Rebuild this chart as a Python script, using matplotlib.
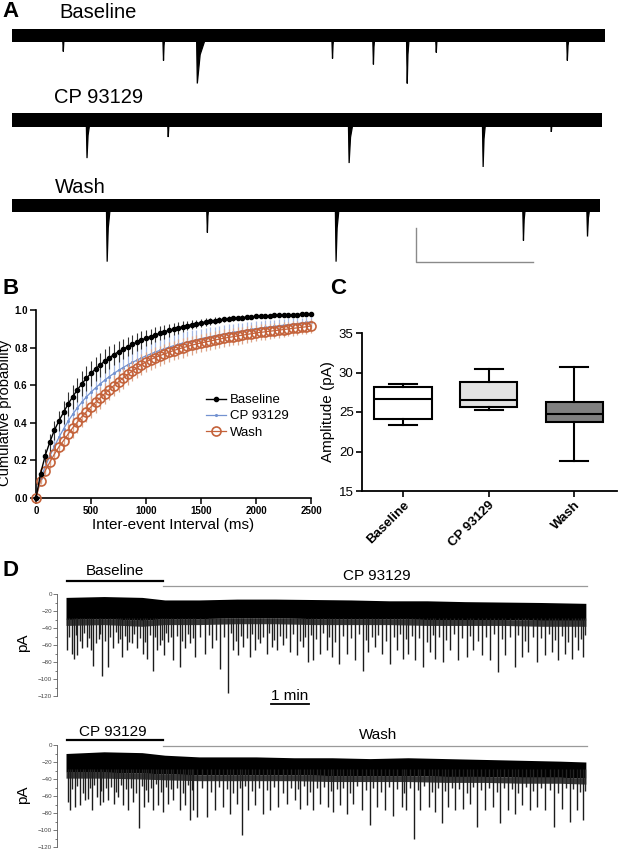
import numpy as np
import matplotlib
matplotlib.use('Agg')
import matplotlib.pyplot as plt
from matplotlib.lines import Line2D
from matplotlib.ticker import MultipleLocator, FormatStrFormatter

plt.rcParams['font.family'] = ['Liberation Sans', 'DejaVu Sans']

W, H = 618, 852
fig = plt.figure(figsize=(W / 100, H / 100), dpi=100)


def fr(x0, y0, x1, y1):
    return [x0 / W, 1 - y1 / H, (x1 - x0) / W, (y1 - y0) / H]


# ---------------- Panel A data (event time ms, amplitude pA, decay ms) ----------------
a_labels = ['Baseline', 'CP 93129', 'Wash']
a_end = [1000, 995, 992]
a_base_t = [86, 255, 312, 540, 609, 666, 715, 936]
a_base_amp = [9.4, 14.7, 28.2, 13.5, 17.0, 28.2, 10.0, 14.7]
a_base_dec = [3, 3, 16, 3, 3, 4, 3, 4]
a_cp_t = [126, 263, 568, 794, 909]
a_cp_amp = [22.4, 10.0, 25.3, 27.6, 7.0]
a_cp_dec = [6, 3, 8, 5, 3]
a_wash_t = [160, 329, 546, 862, 970]
a_wash_amp = [33.0, 15.9, 33.0, 20.6, 18.2]
a_wash_dec = [6, 3, 6, 4, 5]

# ---------------- Panel B data ----------------
b_interval = np.linspace(0, 2500, 61)
b_baseline = [0.0, 0.13, 0.225, 0.296, 0.36, 0.41, 0.455, 0.50, 0.538, 0.575, 0.607,
              0.637, 0.663, 0.687, 0.708, 0.728, 0.746, 0.763, 0.778, 0.792, 0.805,
              0.817, 0.829, 0.840, 0.850, 0.859, 0.868, 0.876, 0.884, 0.891, 0.898,
              0.905, 0.911, 0.917, 0.922, 0.927, 0.932, 0.936, 0.940, 0.944, 0.947,
              0.950, 0.953, 0.956, 0.958, 0.960, 0.962, 0.964, 0.966, 0.968, 0.969,
              0.970, 0.971, 0.972, 0.973, 0.974, 0.975, 0.976, 0.977, 0.978, 0.980]
b_baseline_err = [0.0, 0.02, 0.035, 0.045, 0.05, 0.055, 0.06, 0.062, 0.064, 0.065, 0.066,
                  0.066, 0.066, 0.065, 0.064, 0.062, 0.06, 0.058, 0.056, 0.054, 0.052,
                  0.05, 0.048, 0.046, 0.044, 0.042, 0.04, 0.038, 0.036, 0.034, 0.032,
                  0.03, 0.028, 0.026, 0.024, 0.022, 0.02, 0.019, 0.018, 0.017, 0.016,
                  0.015, 0.014, 0.013, 0.012, 0.011, 0.01, 0.01, 0.01, 0.01, 0.01,
                  0.009, 0.009, 0.009, 0.009, 0.009, 0.008, 0.008, 0.008, 0.008, 0.008]
b_cp = [0.0, 0.105, 0.165, 0.222, 0.274, 0.322, 0.367, 0.408, 0.445, 0.479, 0.51,
        0.538, 0.563, 0.586, 0.607, 0.627, 0.646, 0.663, 0.679, 0.694, 0.708,
        0.721, 0.733, 0.745, 0.756, 0.766, 0.776, 0.785, 0.794, 0.802, 0.81,
        0.817, 0.824, 0.83, 0.836, 0.842, 0.848, 0.853, 0.858, 0.863, 0.868,
        0.873, 0.877, 0.881, 0.885, 0.889, 0.893, 0.897, 0.901, 0.904, 0.907,
        0.910, 0.913, 0.916, 0.919, 0.922, 0.925, 0.928, 0.931, 0.934, 0.937]
b_cp_err = [0.0, 0.02, 0.035, 0.045, 0.055, 0.06, 0.065, 0.068, 0.07, 0.072, 0.072,
            0.072, 0.072, 0.072, 0.071, 0.071, 0.07, 0.07, 0.069, 0.069, 0.068,
            0.068, 0.067, 0.067, 0.066, 0.065, 0.064, 0.063, 0.062, 0.061, 0.06,
            0.059, 0.058, 0.056, 0.055, 0.053, 0.052, 0.051, 0.05, 0.049, 0.048,
            0.047, 0.046, 0.045, 0.044, 0.043, 0.042, 0.041, 0.04, 0.039, 0.038,
            0.037, 0.036, 0.035, 0.034, 0.033, 0.032, 0.03, 0.029, 0.027, 0.025]
b_wash = [0.0, 0.092, 0.145, 0.19, 0.233, 0.272, 0.305, 0.34, 0.373, 0.403, 0.432,
          0.459, 0.485, 0.509, 0.532, 0.555, 0.577, 0.598, 0.618, 0.638, 0.657,
          0.675, 0.692, 0.709, 0.724, 0.736, 0.747, 0.757, 0.766, 0.775, 0.784,
          0.792, 0.799, 0.806, 0.813, 0.819, 0.825, 0.830, 0.835, 0.840, 0.845,
          0.850, 0.854, 0.858, 0.862, 0.866, 0.870, 0.874, 0.878, 0.881, 0.884,
          0.887, 0.890, 0.893, 0.896, 0.899, 0.902, 0.905, 0.908, 0.911, 0.915]
b_wash_err = [0.0, 0.015, 0.025, 0.035, 0.04, 0.045, 0.05, 0.052, 0.054, 0.055, 0.056,
              0.057, 0.057, 0.057, 0.057, 0.057, 0.056, 0.056, 0.056, 0.056, 0.055,
              0.055, 0.055, 0.055, 0.054, 0.054, 0.054, 0.053, 0.053, 0.053, 0.052,
              0.052, 0.052, 0.051, 0.051, 0.05, 0.05, 0.049, 0.049, 0.048, 0.048,
              0.047, 0.047, 0.046, 0.046, 0.045, 0.044, 0.044, 0.043, 0.042, 0.042,
              0.041, 0.04, 0.04, 0.039, 0.038, 0.038, 0.037, 0.036, 0.036, 0.035]

# ---------------- Panel C data ----------------
c_groups = ['Baseline', 'CP 93129', 'Wash']
c_min = [23.4, 25.3, 18.8]
c_q1 = [24.1, 25.6, 23.75]
c_median = [26.6, 26.5, 24.8]
c_q3 = [28.15, 28.8, 26.25]
c_max = [28.5, 30.4, 30.7]
c_colors = ['white', '#e3e3e3', '#7f7f7f']

# ---------------- Panel D data (time min, current pA) ----------------
d_ticks = [-120, -100, -80, -60, -40, -20, 0]
d1_bar_labels = ['Baseline', 'CP 93129']
d2_bar_labels = ['CP 93129', 'Wash']
d_switch = 2.55
d_end = 13.68
d1_env_t = [0, 1, 2, 2.6, 3.5, 4.5, 5.5, 6.5, 7.5, 8.5, 9.5, 10.5, 11.5, 12.5, 13.68]
d1_env_top = [-4, -3, -4, -7, -7, -6, -6, -6.5, -7, -8, -8, -9, -9.5, -10, -11]
d1_env_bot = [-30, -29, -31, -29, -29, -28, -28, -29, -29, -29, -30, -30, -30, -31, -31]
d1_spike_t = [0.02, 0.15, 0.21, 0.3, 0.42, 0.54, 0.65, 0.72, 0.86, 0.95, 1.1, 1.24, 1.38,
              1.47, 1.6, 1.73, 1.86, 2.02, 2.12, 2.28, 2.39, 2.47, 2.58, 2.68, 2.82, 3.0,
              3.13, 3.26, 3.4, 3.66, 3.83, 4.05, 4.27, 4.4, 4.53, 4.67, 4.84, 4.97, 5.1,
              5.28, 5.41, 5.54, 5.72, 5.89, 6.07, 6.24, 6.37, 6.5, 6.68, 6.86, 6.99, 7.19,
              7.39, 7.61, 7.82, 7.96, 8.13, 8.31, 8.53, 8.7, 8.88, 9.01, 9.18, 9.4, 9.58,
              9.71, 9.93, 10.1, 10.32, 10.54, 10.72, 10.94, 11.16, 11.38, 11.55, 11.82,
              11.99, 12.17, 12.39, 12.61, 12.78, 12.96, 13.13, 13.31, 13.48, 13.61]
d1_spike_pa = [-66, -70, -76, -72, -64, -62, -66, -85, -53, -97, -86, -64, -58,
               -74, -66, -58, -64, -70, -76, -91, -66, -60, -72, -56, -78, -86,
               -64, -58, -74, -70, -64, -88, -117, -66, -72, -62, -74, -66, -58,
               -70, -62, -66, -60, -68, -72, -62, -80, -78, -70, -66, -74, -82,
               -70, -78, -90, -68, -62, -70, -82, -66, -76, -70, -78, -86, -68,
               -76, -80, -66, -78, -74, -66, -72, -78, -92, -72, -86,
               -74, -68, -80, -72, -68, -78, -70, -76, -66, -74]
d1_mid_t = [0.08, 0.26, 0.36, 0.48, 0.6, 0.79, 0.9, 1.03, 1.17, 1.31, 1.43, 1.54, 1.67,
            1.8, 1.94, 2.07, 2.2, 2.34, 2.52, 2.63, 2.75, 2.91, 3.06, 3.2, 3.33, 3.53,
            3.75, 3.94, 4.16, 4.34, 4.47, 4.6, 4.76, 4.9, 5.04, 5.19, 5.35, 5.48, 5.63,
            5.8, 5.98, 6.15, 6.3, 6.44, 6.59, 6.77, 6.93, 7.09, 7.29, 7.5, 7.72, 7.89,
            8.05, 8.22, 8.42, 8.62, 8.79, 8.95, 9.1, 9.29, 9.49, 9.65, 9.82, 10.01,
            10.21, 10.43, 10.63, 10.83, 11.05, 11.27, 11.47, 11.68, 11.9, 12.08, 12.28,
            12.5, 12.7, 12.87, 13.05, 13.22, 13.4, 13.55, 13.66]
d1_mid_pa = [-50, -48, -55, -46, -52, -58, -47, -55, -50, -45, -53, -49, -56,
             -47, -52, -57, -48, -50, -54, -46, -51, -49, -55, -47, -52, -50,
             -48, -54, -51, -46, -55, -49, -52, -47, -53, -50, -46, -54, -49,
             -52, -47, -55, -50, -48, -53, -46, -51, -56, -49, -52, -47, -54,
             -50, -48, -55, -51, -47, -53, -49, -52, -56, -48, -51, -54,
             -47, -52, -49, -55, -50, -47, -53, -51, -48, -55, -50,
             -52, -47, -54, -49, -56, -50, -53, -48]
d2_env_t = [0, 1, 2, 2.6, 3.5, 5, 6, 7, 8, 9, 10, 11, 12, 13, 13.68]
d2_env_top = [-10, -8, -9, -12, -14, -14, -15, -15, -16, -15, -16, -17, -18, -19, -20]
d2_env_bot = [-32, -32, -33, -34, -35, -35, -35, -36, -36, -36, -37, -37, -38, -38, -39]
d2_spike_t = [0.06, 0.1, 0.24, 0.37, 0.5, 0.59, 0.68, 0.81, 0.89, 0.98, 1.11, 1.25, 1.38,
              1.49, 1.64, 1.77, 1.93, 2.05, 2.17, 2.3, 2.43, 2.56, 2.69, 2.82, 3.0, 3.13,
              3.26, 3.35, 3.44, 3.7, 3.92, 4.14, 4.32, 4.49, 4.64, 4.8, 4.97, 5.19, 5.37,
              5.59, 5.81, 6.03, 6.16, 6.33, 6.51, 6.68, 6.9, 7.03, 7.21, 7.39, 7.56, 7.78,
              8.0, 8.18, 8.39, 8.61, 8.83, 8.96, 9.17, 9.32, 9.54, 9.71, 9.89, 10.06,
              10.24, 10.46, 10.63, 10.81, 11.03, 11.24, 11.42, 11.64, 11.82, 11.99, 12.21,
              12.39, 12.61, 12.85, 13.04, 13.26, 13.44, 13.61]
d2_spike_pa = [-67, -77, -73, -71, -65, -63, -77, -61, -71, -67, -65, -69, -61,
               -71, -77, -67, -98, -73, -67, -77, -71, -79, -69, -65, -77, -71,
               -88, -77, -85, -85, -77, -73, -81, -69, -106, -77, -71, -81, -77,
               -73, -69, -65, -75, -71, -77, -69, -73, -79, -71, -81, -69, -77,
               -94, -73, -77, -83, -73, -77, -110, -77, -73, -79, -92, -73,
               -77, -75, -69, -96, -77, -73, -92, -77, -81, -71, -77,
               -73, -77, -96, -75, -90, -77, -88]
d2_mid_t = [0.17, 0.3, 0.44, 0.64, 0.74, 0.93, 1.04, 1.18, 1.31, 1.44, 1.57, 1.7, 1.85,
            1.99, 2.11, 2.24, 2.37, 2.5, 2.62, 2.75, 2.91, 3.07, 3.2, 3.31, 3.57, 3.81,
            4.03, 4.23, 4.4, 4.57, 4.72, 4.89, 5.08, 5.28, 5.48, 5.7, 5.92, 6.1, 6.25,
            6.42, 6.6, 6.79, 6.97, 7.12, 7.3, 7.48, 7.67, 7.89, 8.09, 8.29, 8.5, 8.72,
            8.9, 9.06, 9.25, 9.43, 9.63, 9.8, 9.98, 10.15, 10.35, 10.55, 10.72, 10.92,
            11.13, 11.33, 11.53, 11.73, 11.9, 12.1, 12.3, 12.5, 12.73, 12.95, 13.15,
            13.35, 13.53, 13.66]
d2_mid_pa = [-52, -48, -56, -50, -47, -54, -51, -49, -55, -47, -52, -50, -57,
             -48, -53, -51, -46, -55, -49, -52, -50, -56, -47, -53, -51, -55,
             -49, -52, -57, -50, -48, -54, -51, -53, -49, -56, -50, -52, -48,
             -55, -51, -49, -54, -52, -50, -57, -48, -53, -51, -55, -49, -52,
             -56, -50, -53, -48, -55, -51, -54, -50, -52, -57, -49, -53,
             -51, -55, -50, -52, -56, -49, -54, -51, -53, -57, -50,
             -52, -55, -54]

# =============== Panel A ===============
axA = fig.add_axes(fr(12, 0, 605, 270))
axA.set_xlim(0, 1000)
axA.set_ylim(-158.8, 0)
axA.axis('off')
a_offsets = [-20.9, -70.6, -120.9]
a_events = [(a_base_t, a_base_amp, a_base_dec),
            (a_cp_t, a_cp_amp, a_cp_dec),
            (a_wash_t, a_wash_amp, a_wash_dec)]
for off, end, (ts, amps, decs) in zip(a_offsets, a_end, a_events):
    axA.fill_between([0, end], off - 4.0, off + 4.0, color='k', lw=0)
    for t, amp, dec in zip(ts, amps, decs):
        xs = [t - 0.8, t + 0.5, t + 0.5 + dec * 0.3, t + dec]
        ys = [off, off - amp, off - amp * 0.4, off]
        axA.fill(xs, ys, color='k', lw=0.9)
# scale bar (200 ms, 20 pA)
axA.plot([681, 681, 879], [-134.1, -154.1, -154.1], color='#8a8a8a', lw=1.0)
for (x, y), lab in zip([(59, 12.5), (54, 97.5), (55, 187.5)], a_labels):
    fig.text(x / W, 1 - y / H, lab, fontsize=14.5, va='center', ha='left')

# panel letters
for x, y, s in [(2, 11.5, 'A'), (2, 288, 'B'), (330, 289, 'C'), (2, 570, 'D')]:
    fig.text(x / W, 1 - y / H, s, fontsize=16, fontweight='bold', va='center', ha='left')

# =============== Panel B ===============
axB = fig.add_axes(fr(36, 310, 311, 498))
cp_col, cp_ecol = '#7392d0', '#a6b9e4'
wa_col, wa_ecol = '#c4623a', '#dda488'
e1 = axB.errorbar(b_interval, b_cp, yerr=b_cp_err, color=cp_col, ecolor=cp_ecol,
                  lw=0.9, elinewidth=0.9, marker='.', ms=2.5, zorder=2)
e2 = axB.errorbar(b_interval, b_wash, yerr=b_wash_err, color=wa_col, ecolor=wa_ecol,
                  lw=0.9, elinewidth=0.9, marker='o', ms=6.5, mfc='none', mew=1.2,
                  zorder=3)
e3 = axB.errorbar(b_interval, b_baseline, yerr=b_baseline_err, color='k', ecolor='#333333',
                  lw=1.0, elinewidth=0.8, marker='o', ms=3.0, zorder=4)
for e in (e1, e2, e3):
    for art in e.get_children():
        art.set_clip_on(False)
axB.set_xlim(0, 2500)
axB.set_ylim(0, 1)
axB.set_xticks([0, 500, 1000, 1500, 2000, 2500])
axB.set_yticks([0, 0.2, 0.4, 0.6, 0.8, 1.0])
axB.yaxis.set_major_formatter(FormatStrFormatter('%.1f'))
for sp in ('top', 'right'):
    axB.spines[sp].set_visible(False)
for sp in ('left', 'bottom'):
    axB.spines[sp].set_linewidth(1.2)
axB.tick_params(direction='out', length=4, width=1.1, pad=2, labelsize=7)
for lab in axB.get_xticklabels() + axB.get_yticklabels():
    lab.set_fontweight('bold')
axB.set_xlabel('Inter-event Interval (ms)', fontsize=11, labelpad=1)
axB.set_ylabel('Cumulative probability', fontsize=10.6)
axB.yaxis.set_label_coords(-0.086, 0.45)
handles = [Line2D([], [], color='k', marker='o', ms=3.0, lw=1.0),
           Line2D([], [], color=cp_col, marker='.', ms=2.5, lw=0.9),
           Line2D([], [], color=wa_col, marker='o', ms=6.5, mfc='none', mew=1.2, lw=0.9)]
fig.legend(handles, ['Baseline', 'CP 93129', 'Wash'], loc='upper left',
           bbox_to_anchor=(206 / W, 1 - 394 / H), frameon=False, fontsize=9.5,
           handlelength=1.5, handletextpad=0.3, labelspacing=0.3, borderpad=0,
           borderaxespad=0, numpoints=1)

# =============== Panel C ===============
axC = fig.add_axes(fr(362, 333, 617, 491))
stats = [dict(med=m, q1=a, q3=b, whislo=lo, whishi=hi, label=g)
         for g, lo, a, m, b, hi in zip(c_groups, c_min, c_q1, c_median, c_q3, c_max)]
bp = axC.bxp(stats, positions=[0, 1, 2], widths=0.67, showfliers=False, patch_artist=True,
             boxprops=dict(linewidth=1.5, edgecolor='k'),
             medianprops=dict(color='k', linewidth=1.5),
             whiskerprops=dict(color='k', linewidth=1.5),
             capprops=dict(color='k', linewidth=1.5), capwidths=0.33)
for patch, col in zip(bp['boxes'], c_colors):
    patch.set_facecolor(col)
axC.set_xlim(-0.48, 2.5)
axC.set_ylim(15, 35)
axC.set_yticks([15, 20, 25, 30, 35])
for sp in ('top', 'right'):
    axC.spines[sp].set_visible(False)
for sp in ('left', 'bottom'):
    axC.spines[sp].set_linewidth(1.3)
axC.tick_params(direction='out', length=4, width=1.2, labelsize=9.5, pad=2)
axC.set_xticks([0, 1, 2])
axC.set_xticklabels(c_groups, rotation=45, ha='right', rotation_mode='anchor',
                    fontweight='bold', fontsize=9.5)
axC.set_ylabel('Amplitude (pA)', fontsize=11, labelpad=3)


# =============== Panel D ===============
def draw_d(ax, env_t, top, bot, sp_t, sp_pa, mid_t, mid_pa):
    bot = np.asarray(bot, dtype=float)
    ax.fill_between(env_t, bot, bot - 7, color='#3a3a3a', lw=0)
    ax.fill_between(env_t, top, bot, color='k', lw=0)
    ax.vlines(mid_t, -28, mid_pa, color='#262626', lw=1.0)
    ax.vlines(sp_t, -28, sp_pa, color='#1c1c1c', lw=1.0)
    ax.set_xlim(-0.237, 13.71)
    ax.set_ylim(-120, 0)
    for s in ('top', 'right', 'bottom'):
        ax.spines[s].set_visible(False)
    ax.spines['left'].set_linewidth(0.6)
    ax.spines['left'].set_color('#555555')
    ax.set_xticks([])
    ax.set_yticks(d_ticks)
    ax.yaxis.set_minor_locator(MultipleLocator(10))
    ax.tick_params(axis='y', which='major', length=3, width=0.5, labelsize=4.5,
                   colors='#444444', pad=0.5)
    ax.tick_params(axis='y', which='minor', length=1.8, width=0.5, colors='#444444')


axD1 = fig.add_axes(fr(57, 594, 587, 696))
draw_d(axD1, d1_env_t, d1_env_top, d1_env_bot, d1_spike_t, d1_spike_pa, d1_mid_t, d1_mid_pa)
axD1.plot([0.03, d_switch], [15.3, 15.3], color='k', lw=1.6, clip_on=False)
axD1.plot([d_switch, 13.71], [9.4, 9.4], color='#9a9a9a', lw=0.9, clip_on=False)
axD1.text(1.29, 27, d1_bar_labels[0], fontsize=11, ha='center', va='center')
axD1.text(8.18, 21, d1_bar_labels[1], fontsize=11, ha='center', va='center')
axD1.plot([5.39, 6.39], [-129.4, -129.4], color='k', lw=1.3, clip_on=False)
axD1.text(5.89, -120.5, '1 min', fontsize=11, ha='center', va='center')

axD2 = fig.add_axes(fr(57, 745, 587, 847))
draw_d(axD2, d2_env_t, d2_env_top, d2_env_bot, d2_spike_t, d2_spike_pa, d2_mid_t, d2_mid_pa)
axD2.plot([0.03, d_switch], [5.9, 5.9], color='k', lw=1.6, clip_on=False)
axD2.plot([d_switch, 13.71], [-0.8, -0.8], color='#9a9a9a', lw=0.9, clip_on=False)
axD2.text(1.24, 15.3, d2_bar_labels[0], fontsize=11, ha='center', va='center')
axD2.text(8.2, 11.8, d2_bar_labels[1], fontsize=11, ha='center', va='center')

for y in (643, 795):
    fig.text(23 / W, 1 - y / H, 'pA', rotation=90, fontsize=11, ha='center', va='center')

fig.savefig('out.png', dpi=100)
